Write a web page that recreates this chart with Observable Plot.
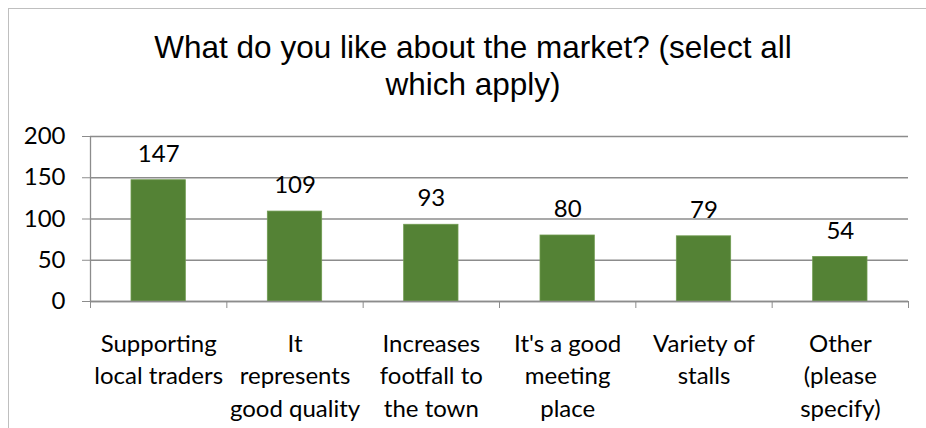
<!DOCTYPE html>
<html>
<head>
<meta charset="utf-8">
<script src="https://cdn.jsdelivr.net/npm/d3@7"></script>
<script src="https://cdn.jsdelivr.net/npm/@observablehq/plot@0.6"></script>
<style>
  html, body { margin: 0; padding: 0; background: #fff; }
  #wrap { position: relative; width: 926px; height: 428px; overflow: hidden; background: #fff; }
  #frame { position: absolute; left: 8px; top: 8px; width: 940px; height: 440px; border: 1px solid #bfbfbf; box-sizing: border-box; }
  #title { position: absolute; left: 0; width: 946px; top: 29px; text-align: center;
           font-family: "Liberation Sans", Arial, sans-serif; font-size: 31.5px; line-height: 37px; color: #000; }
  #title div { white-space: nowrap; }
  #chart { position: absolute; left: 0; top: 0; }
</style>
</head>
<body>
<div id="wrap">
  <div id="frame"></div>
  <div id="chart"></div>
  <div id="title"><div>What do you like about the market? (select all</div><div>which apply)</div></div>
</div>
<script>
const categories = [
  "Supporting local traders",
  "It represents good quality",
  "Increases footfall to the town",
  "It's a good meeting place",
  "Variety of stalls",
  "Other (please specify)"
];
const categoryLabels = [
  "Supporting\nlocal traders",
  "It\nrepresents\ngood quality",
  "Increases\nfootfall to\nthe town",
  "It's a good\nmeeting\nplace",
  "Variety of\nstalls",
  "Other\n(please\nspecify)"
];
const values = [147, 109, 93, 80, 79, 54];
const yTicks = [0, 50, 100, 150, 200];

const data = categories.map((c, i) => ({category: c, label: categoryLabels[i], value: values[i], i}));

const font = "Lato, 'Noto Sans', sans-serif";
const gray = "#8c8c8c";

const chart = Plot.plot({
  width: 926,
  height: 428,
  marginLeft: 90,
  marginRight: 18,
  marginTop: 136,
  marginBottom: 127,
  style: {fontFamily: font, fontSize: "24px", color: "#000", background: "transparent"},
  x: {type: "linear", domain: [0, categories.length], axis: null},
  y: {domain: [0, 200], axis: null},
  marks: [
    Plot.gridY(yTicks, {stroke: gray, strokeOpacity: 1, strokeWidth: 1.3}),
    Plot.axisY({ticks: yTicks, tickSize: 8, tickPadding: 17, stroke: gray, strokeOpacity: 1, fontSize: 24, fill: "#000", label: null}),
    Plot.axisX({ticks: d3.range(categories.length + 1), tickSize: 7, tickFormat: () => "", stroke: gray, strokeOpacity: 1, label: null}),
    Plot.ruleX([0], {stroke: gray, strokeWidth: 1.3}),
    Plot.rectY(data, {x1: "i", x2: d => d.i + 1, y: "value", insetLeft: 41, insetRight: 41, fill: "#548235", stroke: "#6f9a4f", strokeWidth: 0.8}),
    Plot.ruleY([0], {stroke: gray, strokeWidth: 1.3}),
    Plot.text(data, {x: d => d.i + 0.5, y: "value", text: d => String(d.value), dy: -26, fontSize: 24, fill: "#000"}),
    Plot.text(data, {x: d => d.i + 0.5, text: "label", frameAnchor: "bottom", lineAnchor: "top", dy: 27, lineHeight: 1.36, fontSize: 24, fill: "#000"})
  ]
});
document.getElementById("chart").appendChild(chart);
</script>
</body>
</html>
